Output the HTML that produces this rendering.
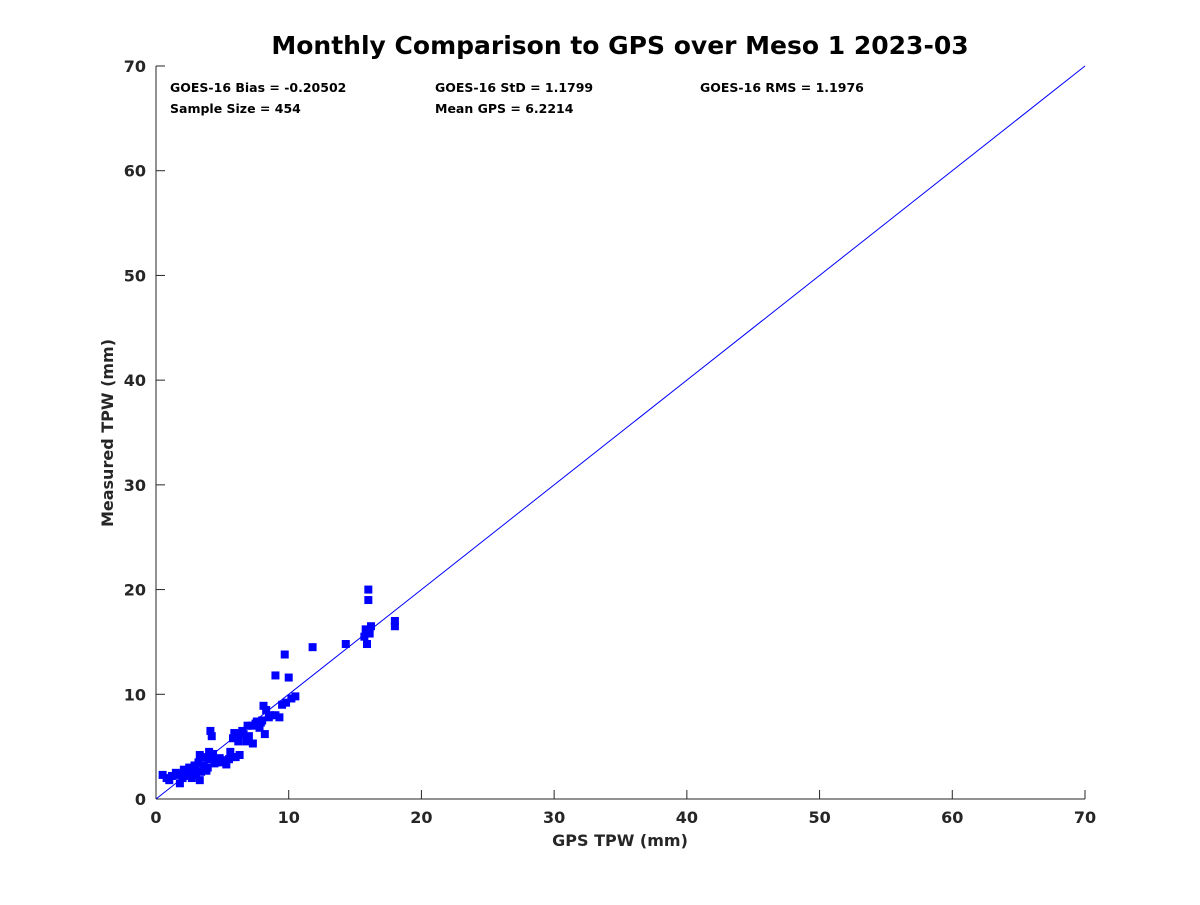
<!DOCTYPE html>
<html><head><meta charset="utf-8"><style>
body{margin:0;background:#fff;}
svg text{font-family:"DejaVu Sans","Liberation Sans",sans-serif;font-weight:bold;fill:#262626;}
</style></head><body>
<svg id="chart" width="1200" height="900">
<rect width="1200" height="900" fill="#fff"/>
<text x="620" y="54" font-size="25" text-anchor="middle" style="fill:#000">Monthly Comparison to GPS over Meso 1 2023-03</text>
<g id="stats" font-size="12.5">
<text x="170" y="92" style="fill:#000">GOES-16 Bias = -0.20502</text>
<text x="435" y="92" style="fill:#000">GOES-16 StD = 1.1799</text>
<text x="700" y="92" style="fill:#000">GOES-16 RMS = 1.1976</text>
<text x="170" y="113" style="fill:#000">Sample Size = 454</text>
<text x="435" y="113" style="fill:#000">Mean GPS = 6.2214</text>
</g>
<g id="axes"></g>
<g id="marks"></g>
<text x="620" y="846" font-size="16" text-anchor="middle">GPS TPW (mm)</text>
<text transform="translate(113,433) rotate(-90)" font-size="16" text-anchor="middle">Measured TPW (mm)</text>
</svg>
<script>
const xTicks=[0,10,20,30,40,50,60,70];
const yTicks=[0,10,20,30,40,50,60,70];
const gpsX=[0.5,0.8,1.2,1.5,1.8,2.0,2.2,2.5,2.8,3.0,3.2,3.3,3.5,3.6,3.8,4.0,4.1,4.2,4.3,4.5,4.8,5.0,5.3,5.6,5.8,6.0,6.2,6.5,6.8,7.0,7.2,7.5,7.8,8.0,8.2,8.3,8.5,9.0,9.3,9.5,9.8,10.2,10.5,9.0,9.7,10.0,11.8,14.3,15.7,15.8,15.9,16.0,16.0,16.2,16.1,18.0,18.0,2.7,1.0,3.9,5.5,6.3,7.3,6.6,2.4,3.4,4.6,5.9,7.6,8.1,1.6,2.9,3.3,3.7,4.4,2.1,5.1,6.9,7.9,8.6,3.0,4.0,5.7,6.1];
const measY=[2.3,2.0,2.2,2.5,1.5,2.0,2.6,3.0,2.3,2.8,3.5,1.8,4.0,3.2,2.7,3.8,6.5,6.0,4.3,3.5,3.9,3.5,3.3,4.5,5.8,4.0,5.5,6.5,5.5,6.0,7.0,7.2,6.8,7.5,6.2,8.5,7.8,8.0,7.8,9.0,9.2,9.6,9.8,11.8,13.8,11.6,14.5,14.8,15.5,16.2,14.8,20.0,19.0,16.5,15.8,17.0,16.5,2.0,1.8,3.0,3.8,4.2,5.3,6.2,2.2,2.6,3.6,6.3,7.4,8.9,2.3,3.2,4.2,3.0,3.4,2.8,3.7,7.0,7.3,8.0,2.5,4.5,4.0,6.2];
const X0=156,X1=1085,Y0=799,Y1=66,MAX=70;
const sx=v=>X0+(X1-X0)*v/MAX, sy=v=>Y0-(Y0-Y1)*v/MAX;
const NS="http://www.w3.org/2000/svg";
const ax=document.getElementById('axes'), mk=document.getElementById('marks');
function mkEl(t,a,p){const e=document.createElementNS(NS,t);for(const k in a)e.setAttribute(k,a[k]);p.appendChild(e);return e;}
let l=mkEl('line',{x1:X0,y1:Y0,x2:X1,y2:Y0,stroke:'#262626'},ax);


l=mkEl('line',{x1:X0,y1:Y0,x2:X0,y2:Y1,stroke:'#262626'},ax);


xTicks.forEach(v=>{
 const t=mkEl('line',{x1:sx(v),y1:Y0,x2:sx(v),y2:Y0-9,stroke:'#262626'},ax);
 
 
 const tx=mkEl('text',{x:sx(v),y:Y0+24,'font-size':16,'text-anchor':'middle'},ax);tx.textContent=v;
 
 
});
yTicks.forEach(v=>{
 const t=mkEl('line',{x1:X0,y1:sy(v),x2:X0+9,y2:sy(v),stroke:'#262626'},ax);
 
 
 const tx=mkEl('text',{x:X0-10,y:sy(v)+6,'font-size':16,'text-anchor':'end'},ax);tx.textContent=v;
 
 
});
gpsX.forEach((x,i)=>{
 const r=mkEl('rect',{x:sx(x)-4,y:sy(measY[i])-4,width:8,height:8,fill:'#0000ff'},mk);
 
 
});
const one=mkEl('line',{x1:sx(0),y1:sy(0),x2:sx(MAX),y2:sy(MAX),stroke:'#0000ff','stroke-width':1},mk);


</script>
</body></html>
